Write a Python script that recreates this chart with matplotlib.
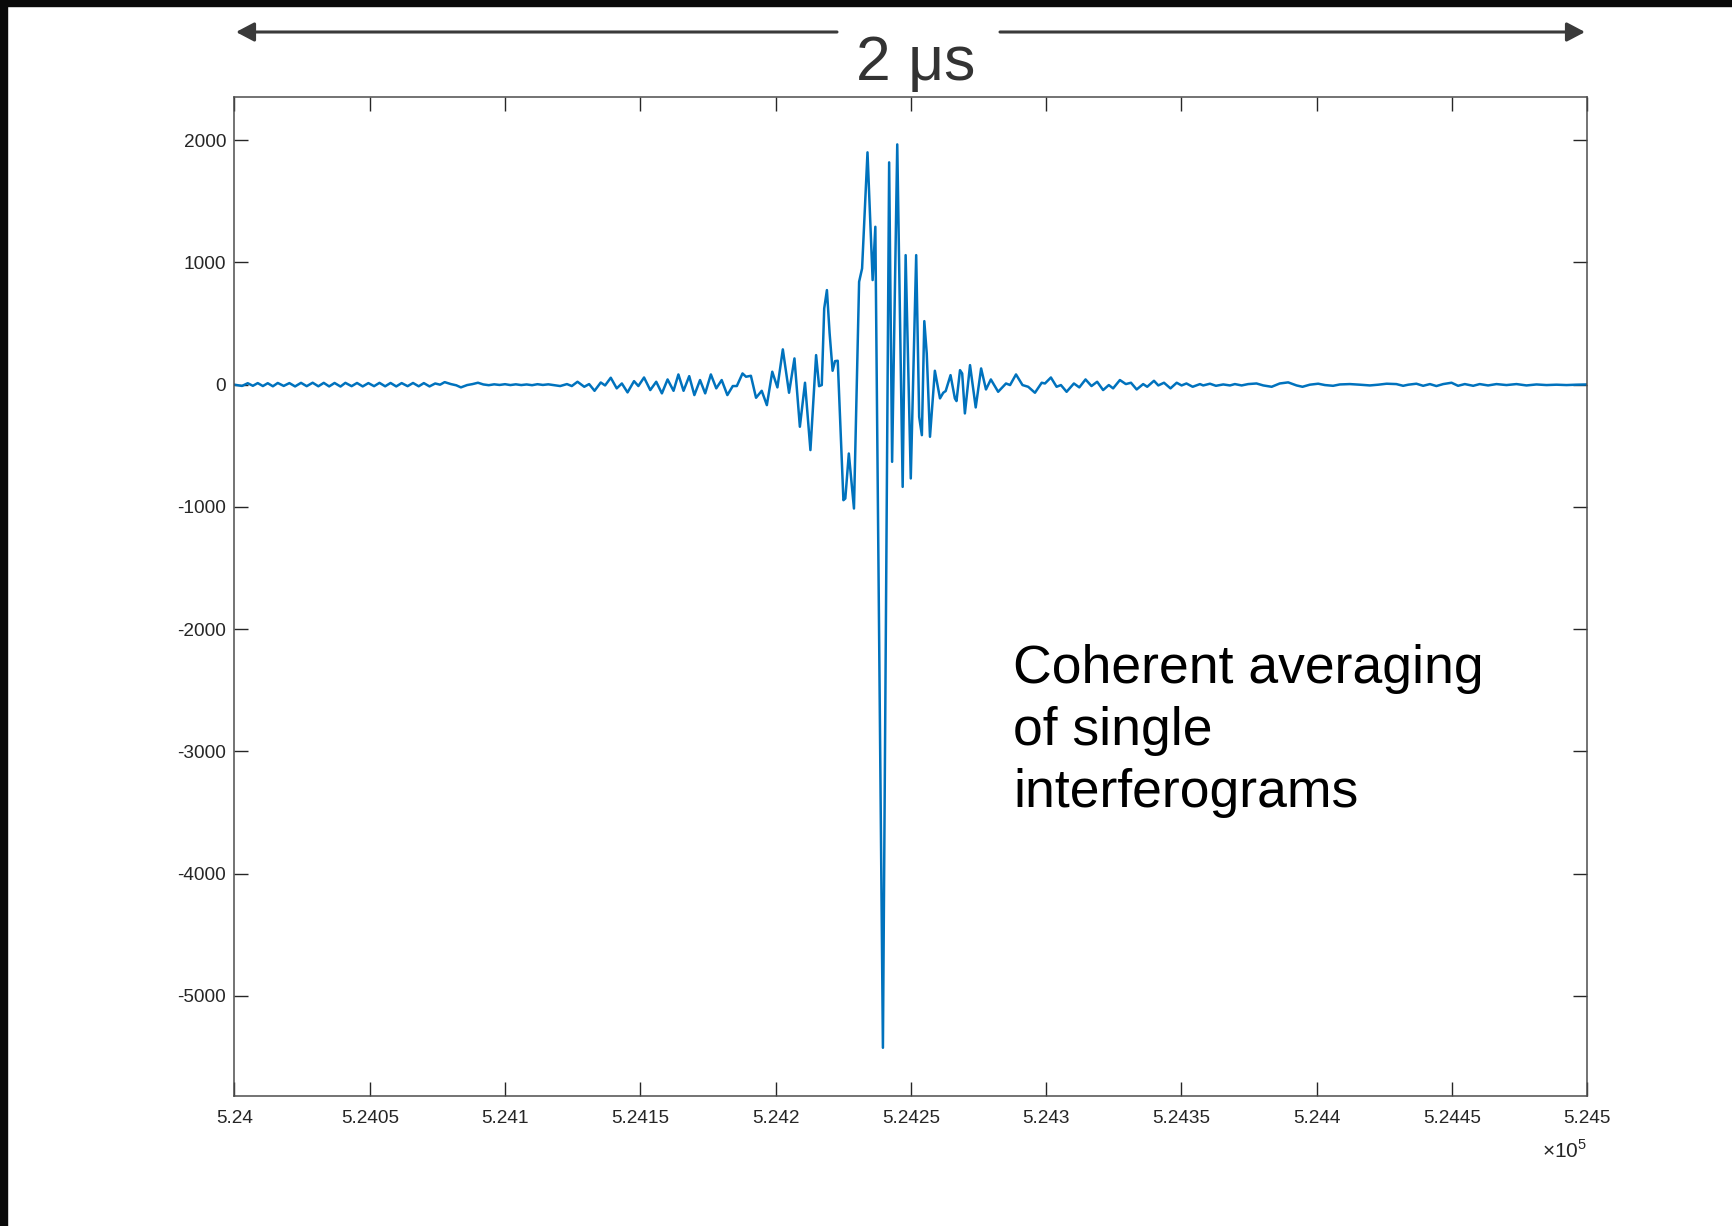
import matplotlib
matplotlib.use("Agg")
import matplotlib.pyplot as plt
from matplotlib.patches import FancyArrowPatch, Rectangle

plt.rcParams['font.family'] = ['Liberation Sans', 'DejaVu Sans']
plt.rcParams['mathtext.fontset'] = 'custom'
plt.rcParams['mathtext.rm'] = 'Liberation Sans'
plt.rcParams['axes.unicode_minus'] = False

# sample offset from 5.24e5 and averaged interferogram amplitude
x_off = [0, 2.8, 4.9, 6.8, 8.6, 10.5, 12.3, 14.2, 16, 18.2,
         20.3, 22.4, 24.6, 26.7, 28.9, 31, 33, 35, 37, 39.2,
         41, 43.3, 45.3, 47.4, 49.5, 51.6, 53.6, 55.7, 57.7, 59.8,
         61.8, 64, 66, 68.1, 70, 72.1, 74.2, 76, 77.7, 80,
         82, 83.7, 86, 88, 90, 92, 94, 96, 98, 100,
         102, 104, 106, 108, 110, 112, 114, 116, 118,
         120.4, 122.9, 124.7, 126.8, 129.3, 131.1, 133.1, 135.4, 137, 139.1, 141.3, 143.2, 145.3,
         147.7, 149.3, 151.4, 153.7, 155.9, 158, 160.1, 162.3, 164.1, 166, 168.1, 170, 172.1,
         174, 176.1, 178.1, 180.1, 182.2, 184.2, 185.7, 187.8, 189.1, 190.9,
         192.8, 194.9, 196.8, 198.8, 200.7, 202.7, 205, 207, 209, 210.9, 212.9, 215, 216.1,
         217.1, 218, 219, 220, 221.1, 222, 223, 225.1, 225.8, 227.1, 229, 230.9, 232, 234,
         235.9, 236.9, 239.7, 242, 243.1, 245, 247, 248.1, 250, 252, 253.1, 254.1, 255,
         255.9, 257.1, 258.9, 260.8, 262, 262.9, 264.7, 266.3, 266.9, 268.2, 269, 270, 271.9,
         274, 276, 277.8, 279.6, 282.3, 285.2, 286.7, 288.9, 291.3, 293.4, 295.9, 298.4,
         299.6, 301.8, 303.9, 305.5, 307.6, 310.3, 312.3, 314.6, 316.8, 318.9, 321.1, 323.2,
         324.8, 327.3, 329.5, 331.4, 333.5,
         335.9, 337.4, 339.9, 341.5, 343.6, 346, 348.3, 350.1, 351.9, 354.2,
         356.9, 358.1, 360.6, 362.8, 365.5, 368, 369.8, 372.3, 374.7, 377.8,
         380.3, 383.4, 386.4, 389.5, 392.6, 394.8, 397.5, 400.6, 403.1, 406.1,
         408.6, 412.3, 416, 419.7, 422.8, 425.9, 429.5, 432, 433.9, 436.9,
         439.4, 441.9, 444.3, 446.8, 449.9, 452.3, 454.8, 457.9, 460.3, 463.4,
         466.5, 470.2, 473.9, 477.6, 481.3, 485, 488.7, 492.4, 496, 500]
amplitude = [0, -10, 12, -9, 13, -11, 12, -13, 14, -10,
             13, -14, 15, -12, 16, -13, 15, -14, 14, -15,
             15, -12, 14, -14, 13, -12, 15, -13, 14, -14,
             13, -12, 14, -13, 13, -14, 10, 0, 21, 5,
             -5, -22, -3, 5, 16, 2, -4, 3, -2, 4,
             -3, 3, -3, 2, -4, 4, -2, 3, -3,
             -11, 5, -11, 24, -17, 5, -50, 18, -6, 57, -30, 10, -63,
             29, -11, 59, -44, 24, -71, 43, -50, 84, -50, 70, -85, 38,
             -71, 84, -30, 38, -85, -11, -11, 92, 65, 73,
             -107, -50, -167, 106, -22, 289, -66, 215, -344, 16, -535, 242, -12,
             -3, 624, 774, 420, 114, 193, 196, -945, -931, -563, -1013, 842, 951, 1901,
             856, 1292, -5425, 1819, -631, 1966, -836, 1060, -767, 1060, -263, -413, 520,
             256, -426, 114, -112, -66, -52, 78, -112, -134, 119, 92, -235, 160,
             -186, 133, -39, 43, -58, 10, -3, 84, -3, -17, -66, 16,
             10, 59, -17, -3, -58, 10, -22, 43, -11, 24, -44, -3,
             -30, 38, 5, 16, -39,
             5, -17, 32, -6, 16, -30, 16, -6, 10, -17,
             5, -6, 8, -9, 2, -6, 5, -6, 5, 10,
             -6, -17, 10, 19, -6, -17, 0, 8, -3, -9,
             2, 5, 0, -6, 0, 8, 5, -9, 0, 8,
             -9, 5, -11, 5, 16, -9, 5, -9, 5, -6,
             5, -3, 5, -6, 2, -3, 0, -3, 0, 2]

xticks = [524000, 524050, 524100, 524150, 524200, 524250, 524300, 524350, 524400, 524450, 524500]
xtick_labels = ['5.24', '5.2405', '5.241', '5.2415', '5.242', '5.2425', '5.243',
                '5.2435', '5.244', '5.2445', '5.245']
yticks = [-5000, -4000, -3000, -2000, -1000, 0, 1000, 2000]
x_start = 524000

fig = plt.figure(figsize=(17.33, 12.26), dpi=100)
ax = fig.add_axes([0.1353, 0.1057, 0.7805, 0.8149])

ax.plot([x_start + v for v in x_off], amplitude, color='#0072BD', lw=1.8)

ax.set_xlim(524000, 524500)
ax.set_ylim(-5823, 2351)
ax.set_xticks(xticks)
ax.set_xticklabels(xtick_labels)
ax.set_yticks(yticks)
ax.tick_params(direction='in', length=10, width=1, labelsize=13.7, colors='#262626',
               top=True, right=True)
ax.tick_params(axis='x', pad=10)
ax.tick_params(axis='y', pad=6)
for s in ax.spines.values():
    s.set_color('#4d4d4d')
    s.set_linewidth(1.1)
ax.text(1.0, -0.054, r'$\times10^{5}$', transform=ax.transAxes, ha='right', va='center',
        fontsize=15, color='#262626')

# annotation text
fig.text(1013 / 1733, 1 - 644 / 1226, 'Coherent averaging\nof single\ninterferograms',
         fontsize=38.5, color='black', ha='left', va='top', linespacing=1.31)

# time span arrows and label
fig.text(916 / 1733, 1 - 80 / 1226, '2 \u03bcs', fontsize=45, color='#333333',
         ha='center', va='baseline')
ypix = 1226 - 32
for x0, x1 in [(837, 236), (1000, 1585)]:
    arr = FancyArrowPatch((x0, ypix), (x1, ypix), transform=None,
                          arrowstyle='-|>,head_length=11,head_width=5.8',
                          mutation_scale=1, color='#3a3a3a', lw=2.2,
                          shrinkA=0, shrinkB=0)
    fig.patches.append(arr)

# black strips on top and left edge of the slide capture
fig.patches.append(Rectangle((0, 1 - 6 / 1226), 1, 6 / 1226, transform=fig.transFigure,
                             color='#0a0a0a', zorder=10))
fig.patches.append(Rectangle((0, 0), 7 / 1733, 1, transform=fig.transFigure,
                             color='#0a0a0a', zorder=10))

fig.savefig('out.png', dpi=100)
